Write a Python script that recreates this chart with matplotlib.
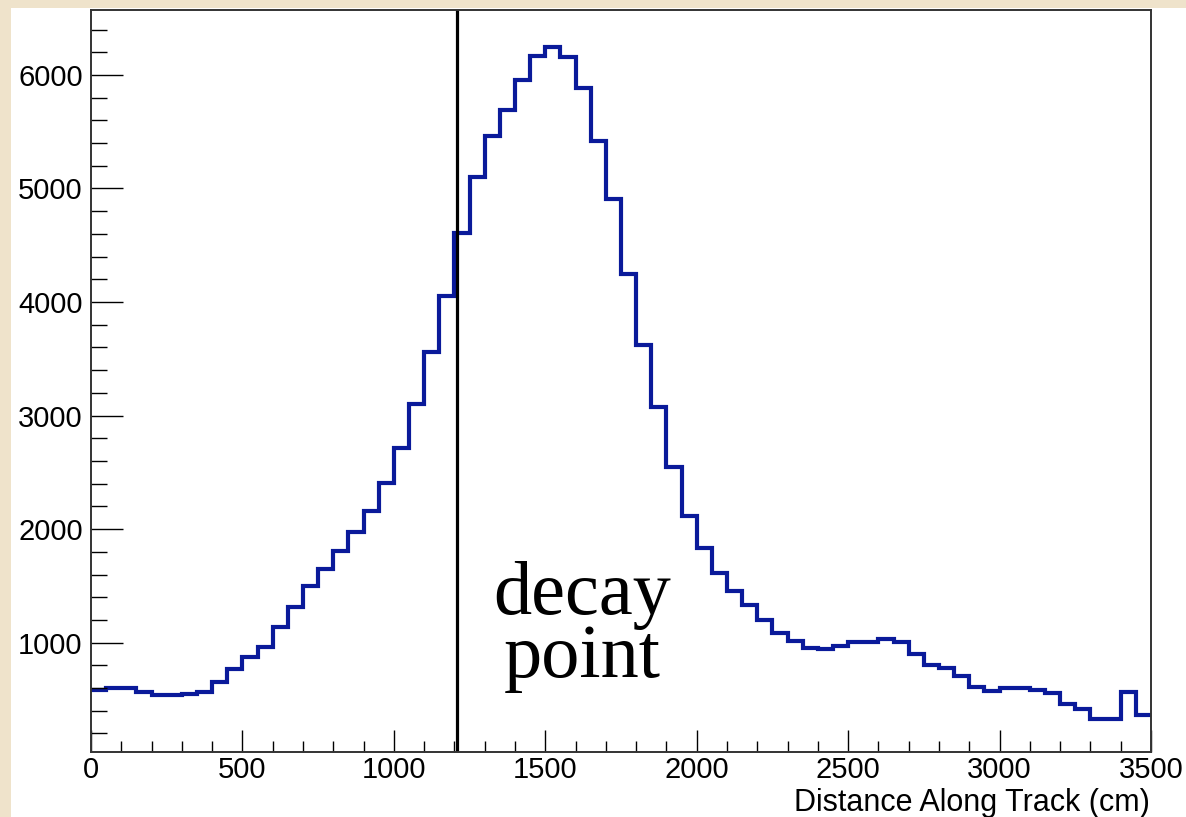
import matplotlib.pyplot as plt
from matplotlib.patches import Rectangle
from matplotlib.ticker import MultipleLocator
import numpy as np

# bin edges (cm) and counts per 50 cm bin
bin_edges = np.arange(0, 3550, 50)
counts = [583, 604, 604, 568, 539, 539, 548, 563, 656, 765,
          870, 963, 1139, 1314, 1496, 1648, 1810, 1975, 2162, 2403,
          2718, 3104, 3560, 4054, 4604, 5101, 5458, 5695, 5954, 6168,
          6247, 6160, 5884, 5414, 4905, 4247, 3618, 3075, 2548, 2118,
          1832, 1616, 1455, 1329, 1197, 1086, 1016, 949, 940, 969,
          1002, 1002, 1031, 1002, 899, 803, 774, 706, 612, 577,
          601, 601, 581, 554, 458, 417, 329, 329, 568, 364]
decay_x = 1210
x_ticks = [0, 500, 1000, 1500, 2000, 2500, 3000, 3500]
y_ticks = [1000, 2000, 3000, 4000, 5000, 6000]

fig = plt.figure(figsize=(11.86, 8.17), dpi=100)
fig.patch.set_facecolor('#efe3cb')
# white canvas of the ROOT pad over the parchment background
fig.patches.append(Rectangle((11 / 1186, 0), 1, (817 - 8) / 817,
                             transform=fig.transFigure, facecolor='white',
                             edgecolor='none', zorder=-10))

ax = fig.add_axes([91 / 1186, 65 / 817, 1060 / 1186, 742 / 817])
ax.set_facecolor('white')

ax.stairs(counts, bin_edges, baseline=None, color='#0a1a9a', linewidth=3)
ax.axvline(decay_x, color='black', linewidth=2.3)

ax.set_xlim(0, 3500)
ax.set_ylim(37, 6572)

ax.set_xticks(x_ticks)
ax.set_yticks(y_ticks)
ax.xaxis.set_minor_locator(MultipleLocator(100))
ax.yaxis.set_minor_locator(MultipleLocator(200))
ax.tick_params(axis='x', which='major', direction='in', length=16, width=1,
               labelsize=21, pad=3, top=False)
ax.tick_params(axis='x', which='minor', direction='in', length=8, width=1, top=False)
ax.tick_params(axis='y', which='major', direction='in', length=23, width=1,
               labelsize=21, pad=6, right=False)
ax.tick_params(axis='y', which='minor', direction='in', length=11.5, width=1, right=False)
for lab in ax.get_xticklabels() + ax.get_yticklabels():
    lab.set_fontfamily('Liberation Sans')

for s in ax.spines.values():
    s.set_color('#333333')
    s.set_linewidth(1.4)

fig.text(1150 / 1186, 6 / 817, 'Distance Along Track (cm)', ha='right',
         va='baseline', fontsize=22, family='Liberation Sans')

ax.text(1621, 1250, 'decay', ha='center', va='baseline', fontsize=55,
        family='Liberation Serif')
ax.text(1621, 700, 'point', ha='center', va='baseline', fontsize=55,
        family='Liberation Serif')

fig.savefig('out.png', dpi=100, facecolor=fig.get_facecolor())
